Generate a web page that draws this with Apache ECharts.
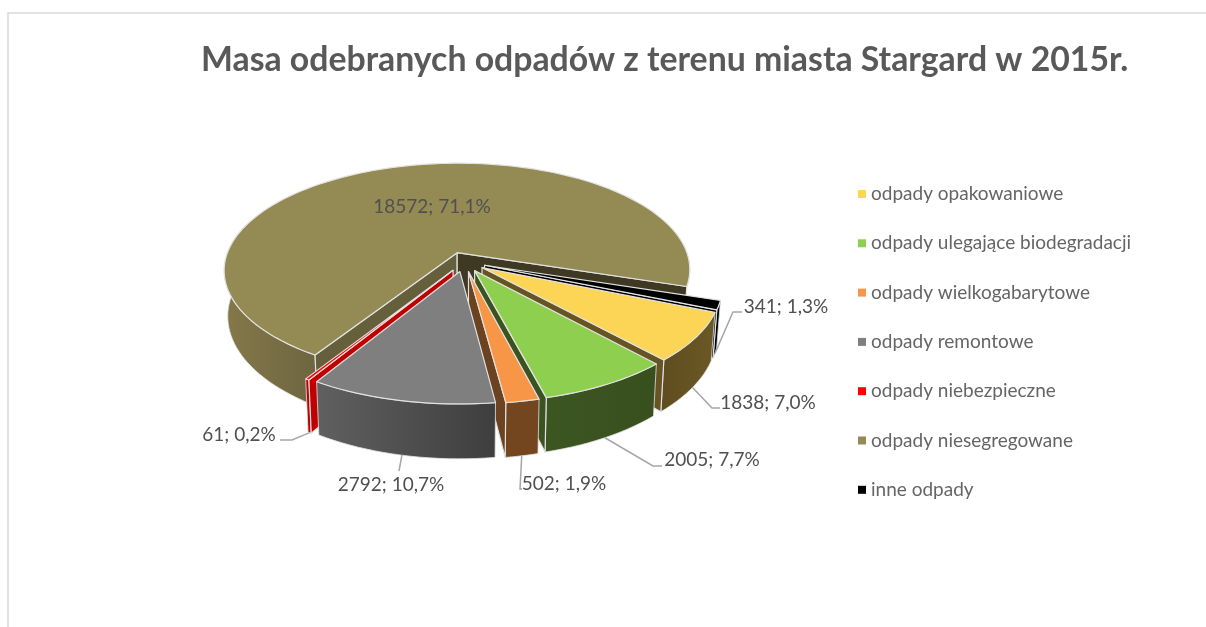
<!DOCTYPE html>
<html>
<head>
<meta charset="utf-8">
<title>Masa odebranych odpadów</title>
<style>
html, body { margin: 0; padding: 0; background: #fff; }
#main { width: 1206px; height: 627px; }
</style>
<script src="https://cdn.jsdelivr.net/npm/echarts@6/dist/echarts.min.js"></script>
</head>
<body>
<div id="main"></div>
<script>
// dane
var categories = ['odpady opakowaniowe', 'odpady ulegające biodegradacji', 'odpady wielkogabarytowe',
    'odpady remontowe', 'odpady niebezpieczne', 'odpady niesegregowane', 'inne odpady'];
var values = [1838, 2005, 502, 2792, 61, 18572, 341];

// kolory: wierzch, sciany przekroju, sciana zewnetrzna (lewo, prawo)
var topColors = ['#fcd456', '#8fcf4f', '#f79646', '#7f7f7f', '#ff0000', '#948a54', '#000000'];
var cutColors = ['#665422', '#3a5320', '#6b4320', '#404040', '#c00000', '#665f3c', '#000000'];
var endCutColors = ['#665422', '#3a5320', '#6b4320', '#404040', '#c00000', '#3f3923', '#000000'];
var wallLeft = ['#5f4d20', '#3c5622', '#744620', '#606060', '#c00000', '#85794a', '#000000'];
var wallRight = ['#6a5825', '#384f1e', '#744620', '#3e3e3e', '#c00000', '#6d6540', '#000000'];

// kolejnosc rysowania od tylu do przodu
var drawOrder = [5, 6, 0, 1, 2, 4, 3];

// geometria 3D
var firstAngle = 112.7;
var cx = 464.4, cy = 261.8;
var R = 233, Rk = 107, depth = 45, persp = 6.07, explode = 0.092, taper = 0.015;

// etykiety: kolanko linii [x, y] (null = prosta) i koniec linii, srodek tekstu
var labelLine = [
    [[712, 408], [720, 408]],
    [[653, 466], [662, 466]],
    [[520, 489], [522, 489]],
    [null, [399, 471]],
    [[292, 440], [280, 440]],
    null,
    [[733, 312], [742, 312]]
];
var labelPos = [[768, 403], [712, 460], [564, 484], [391, 485], [239, 435], [432, 207], [786, 307]];

var total = 0;
values.forEach(function (v) { total += v; });

var startAngles = [];
var sum = firstAngle;
values.forEach(function (v) {
    startAngles.push(sum);
    sum += v / total * 360;
});

function rad(a) { return a * Math.PI / 180; }

function project(wx, wy, z) {
    var s = persp / (persp - wy);
    return [cx + R * wx * s * (1 - taper * z), cy + (Rk * wy + depth * z) * s];
}

// punkt na wycinku i: r = promien, a = kat w stopniach od gory zgodnie z zegarem
function slicePoint(i, a, r, z) {
    var mid = startAngles[i] + values[i] / total * 180;
    var wx = explode * Math.sin(rad(mid)) + r * Math.sin(rad(a));
    var wy = -explode * Math.cos(rad(mid)) - r * Math.cos(rad(a));
    return project(wx, wy, z);
}

function arcAngles(a0, a1) {
    var n = Math.max(2, Math.ceil((a1 - a0) / 2));
    var list = [];
    for (var j = 0; j <= n; j++) {
        list.push(a0 + (a1 - a0) * j / n);
    }
    return list;
}

function renderSlice(i) {
    var a0 = startAngles[i];
    var a1 = a0 + values[i] / total * 360;
    var children = [];
    var edge = '#e2e2e2';

    function poly(points, fill, lw) {
        children.push({
            type: 'polygon',
            shape: { points: points },
            style: { fill: fill, stroke: edge, lineWidth: lw === undefined ? 1.2 : lw, lineJoin: 'round' }
        });
    }

    // sciana zewnetrzna, z zapasem poza 90-270 stopni bo perspektywa przesuwa krawedz
    [0, 360].forEach(function (shift) {
        var from = Math.max(a0, 78 + shift);
        var to = Math.min(a1, 284 + shift);
        if (to <= from) {
            return;
        }
        var upper = [], lower = [];
        arcAngles(from, to).forEach(function (a) {
            upper.push(slicePoint(i, a, 1, 0));
            lower.unshift(slicePoint(i, a, 1, 1));
        });
        poly(upper.concat(lower), new echarts.graphic.LinearGradient(0, 0, 1, 0, [
            { offset: 0, color: wallLeft[i] },
            { offset: 1, color: wallRight[i] }
        ]), 0.8);
    });

    // sciana przy poczatku wycinka
    if (Math.sin(rad(a0)) < 0) {
        poly([slicePoint(i, a0, 0, 0), slicePoint(i, a0, 1, 0), slicePoint(i, a0, 1, 1), slicePoint(i, a0, 0, 1)], cutColors[i]);
    }
    // sciana przy koncu wycinka
    if (Math.sin(rad(a1)) > 0) {
        poly([slicePoint(i, a1, 0, 0), slicePoint(i, a1, 1, 0), slicePoint(i, a1, 1, 1), slicePoint(i, a1, 0, 1)], endCutColors[i]);
    }

    // wierzch
    var top = [slicePoint(i, a0, 0, 0)];
    arcAngles(a0, a1).forEach(function (a) {
        top.push(slicePoint(i, a, 1, 0));
    });
    poly(top, topColors[i]);

    // linia odniesienia i etykieta
    if (labelLine[i]) {
        var midA = (a0 + a1) / 2;
        var pts = [slicePoint(i, midA, 1, 1)];
        if (labelLine[i][0]) {
            pts.push(labelLine[i][0]);
        }
        pts.push(labelLine[i][1]);
        children.push({
            type: 'polyline',
            shape: { points: pts },
            style: { fill: null, stroke: '#a6a6a6', lineWidth: 1.5 }
        });
    }
    children.push({
        type: 'text',
        z2: 10,
        style: {
            text: values[i] + '; ' + (values[i] / total * 100).toFixed(1).replace('.', ',') + '%',
            x: labelPos[i][0],
            y: labelPos[i][1],
            fill: '#505050',
            font: '19px Lato',
            textAlign: 'center',
            textVerticalAlign: 'middle'
        }
    });

    return { type: 'group', children: children };
}

var chart = echarts.init(document.getElementById('main'));

var series = categories.map(function (name, i) {
    return {
        name: name,
        type: 'custom',
        coordinateSystem: 'none',
        z: 2 + drawOrder.indexOf(i),
        silent: true,
        animation: false,
        itemStyle: { color: topColors[i] },
        data: [values[i]],
        renderItem: function () {
            return renderSlice(i);
        }
    };
});

chart.setOption({
    backgroundColor: '#fff',
    animation: false,
    title: {
        text: 'Masa odebranych odpadów z terenu miasta Stargard w 2015r.',
        left: 196,
        top: 38,
        textStyle: { color: '#595959', fontSize: 33.8, fontWeight: 'bold', fontFamily: 'Lato' }
    },
    legend: {
        data: categories,
        orient: 'vertical',
        left: 853,
        top: 179,
        itemWidth: 8,
        itemHeight: 8,
        itemGap: 29.3,
        icon: 'rect',
        selectedMode: false,
        textStyle: { color: '#656565', fontSize: 19, fontFamily: 'Lato', lineHeight: 20, padding: 0 }
    },
    graphic: [{
        type: 'rect',
        shape: { x: 8, y: 13, width: 1400, height: 800 },
        style: { fill: null, stroke: '#d9d9d9', lineWidth: 1.5 },
        silent: true
    }],
    series: series
});
</script>
</body>
</html>
